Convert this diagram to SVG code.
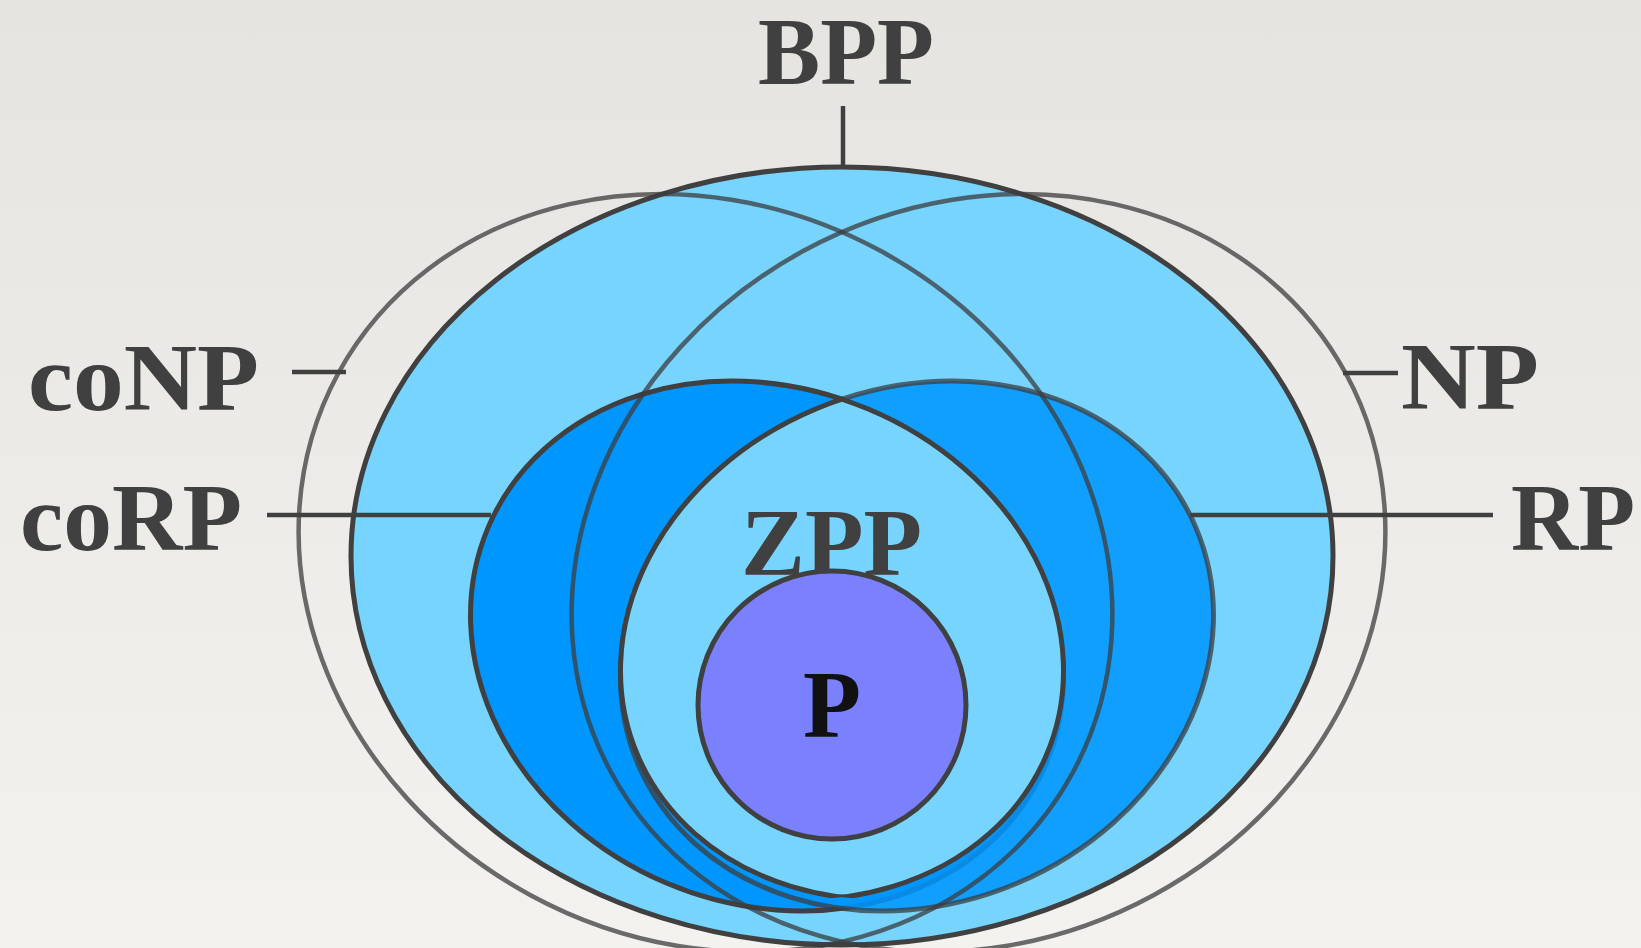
<svg xmlns="http://www.w3.org/2000/svg" width="1641" height="948" viewBox="0 0 1641 948">
  <defs>
    <linearGradient id="bg" x1="0" y1="0" x2="0" y2="1">
      <stop offset="0" stop-color="#E6E4E0"/>
      <stop offset="1" stop-color="#F4F2EF"/>
    </linearGradient>
    <clipPath id="inCoRP"><ellipse cx="0" cy="0" rx="303" ry="257.5" transform="translate(767,646) rotate(23)"/></clipPath>
    <clipPath id="inRP"><ellipse cx="0" cy="0" rx="303" ry="257.5" transform="translate(917,646) rotate(-23)"/></clipPath>
    <style>
      .lbl { font-family: "Liberation Serif", "DejaVu Serif", serif; font-weight: bold; font-size: 95px; fill: #404040; }
      .edge { stroke: #404040; stroke-width: 5; }
      .thin { fill: none; stroke: #3c3c3c; stroke-opacity: 0.75; stroke-width: 4.5; }
      .conn { stroke: #404040; stroke-width: 4.5; fill: none; }
    </style>
  </defs>

  <rect x="0" y="0" width="1641" height="948" fill="url(#bg)"/>

  <g id="bpp">
    <ellipse cx="842" cy="556" rx="491" ry="389" fill="#76D4FE" class="edge" stroke-width="5.5"/>
    <text class="lbl" x="758" y="84" font-size="91" textLength="176" lengthAdjust="spacingAndGlyphs">BPP</text>
  </g>

  <g id="corp">
    <ellipse cx="0" cy="0" rx="303" ry="257.5" transform="translate(767,646) rotate(23)" fill="#0096FF" class="edge"/>
    <text class="lbl" x="20" y="550" textLength="222" lengthAdjust="spacingAndGlyphs">coRP</text>
  </g>

  <g id="rp">
    <ellipse cx="0" cy="0" rx="303" ry="257.5" transform="translate(917,646) rotate(-23)" fill="#0096FF" fill-opacity="0.86" stroke="#3c3c3c" stroke-opacity="0.75" stroke-width="5"/>
    <text class="lbl" x="1511" y="550" textLength="124" lengthAdjust="spacingAndGlyphs">RP</text>
  </g>

  <g id="zpp">
    <g transform="translate(842,396) scale(1,0.978) translate(-842,-396)">
      <g clip-path="url(#inCoRP)">
        <ellipse cx="0" cy="0" rx="303" ry="257.5" transform="translate(917,646) rotate(-23)" fill="#76D4FE" class="edge"/>
      </g>
      <g clip-path="url(#inRP)">
        <ellipse cx="0" cy="0" rx="303" ry="257.5" transform="translate(767,646) rotate(23)" fill="none" class="edge"/>
      </g>
    </g>
    <text class="lbl" x="741" y="575" textLength="181" lengthAdjust="spacingAndGlyphs">ZPP</text>
  </g>

  <g id="p">
    <circle cx="832" cy="705" r="134" fill="#7B80FF" class="edge"/>
    <text class="lbl" x="832" y="737" text-anchor="middle" font-size="90" style="fill:#111111">P</text>
  </g>

  <g id="conp">
    <ellipse cx="0" cy="0" rx="418" ry="366.6" transform="translate(705.5,573) rotate(28.5)" class="thin"/>
    <text class="lbl" x="28" y="410" textLength="231" lengthAdjust="spacingAndGlyphs">coNP</text>
  </g>

  <g id="np">
    <ellipse cx="0" cy="0" rx="418" ry="366.6" transform="translate(978.5,573) rotate(-28.5)" class="thin"/>
    <text class="lbl" x="1401" y="409" textLength="138" lengthAdjust="spacingAndGlyphs">NP</text>
  </g>

  <g id="connectors">
    <line class="conn" x1="843" y1="106" x2="843" y2="165"/>
    <line class="conn" x1="292" y1="372" x2="346" y2="372"/>
    <line class="conn" x1="1343" y1="373" x2="1398" y2="373"/>
    <line class="conn" x1="267" y1="515" x2="491" y2="515"/>
    <line class="conn" x1="1190" y1="515" x2="1493" y2="515"/>
  </g>
</svg>
